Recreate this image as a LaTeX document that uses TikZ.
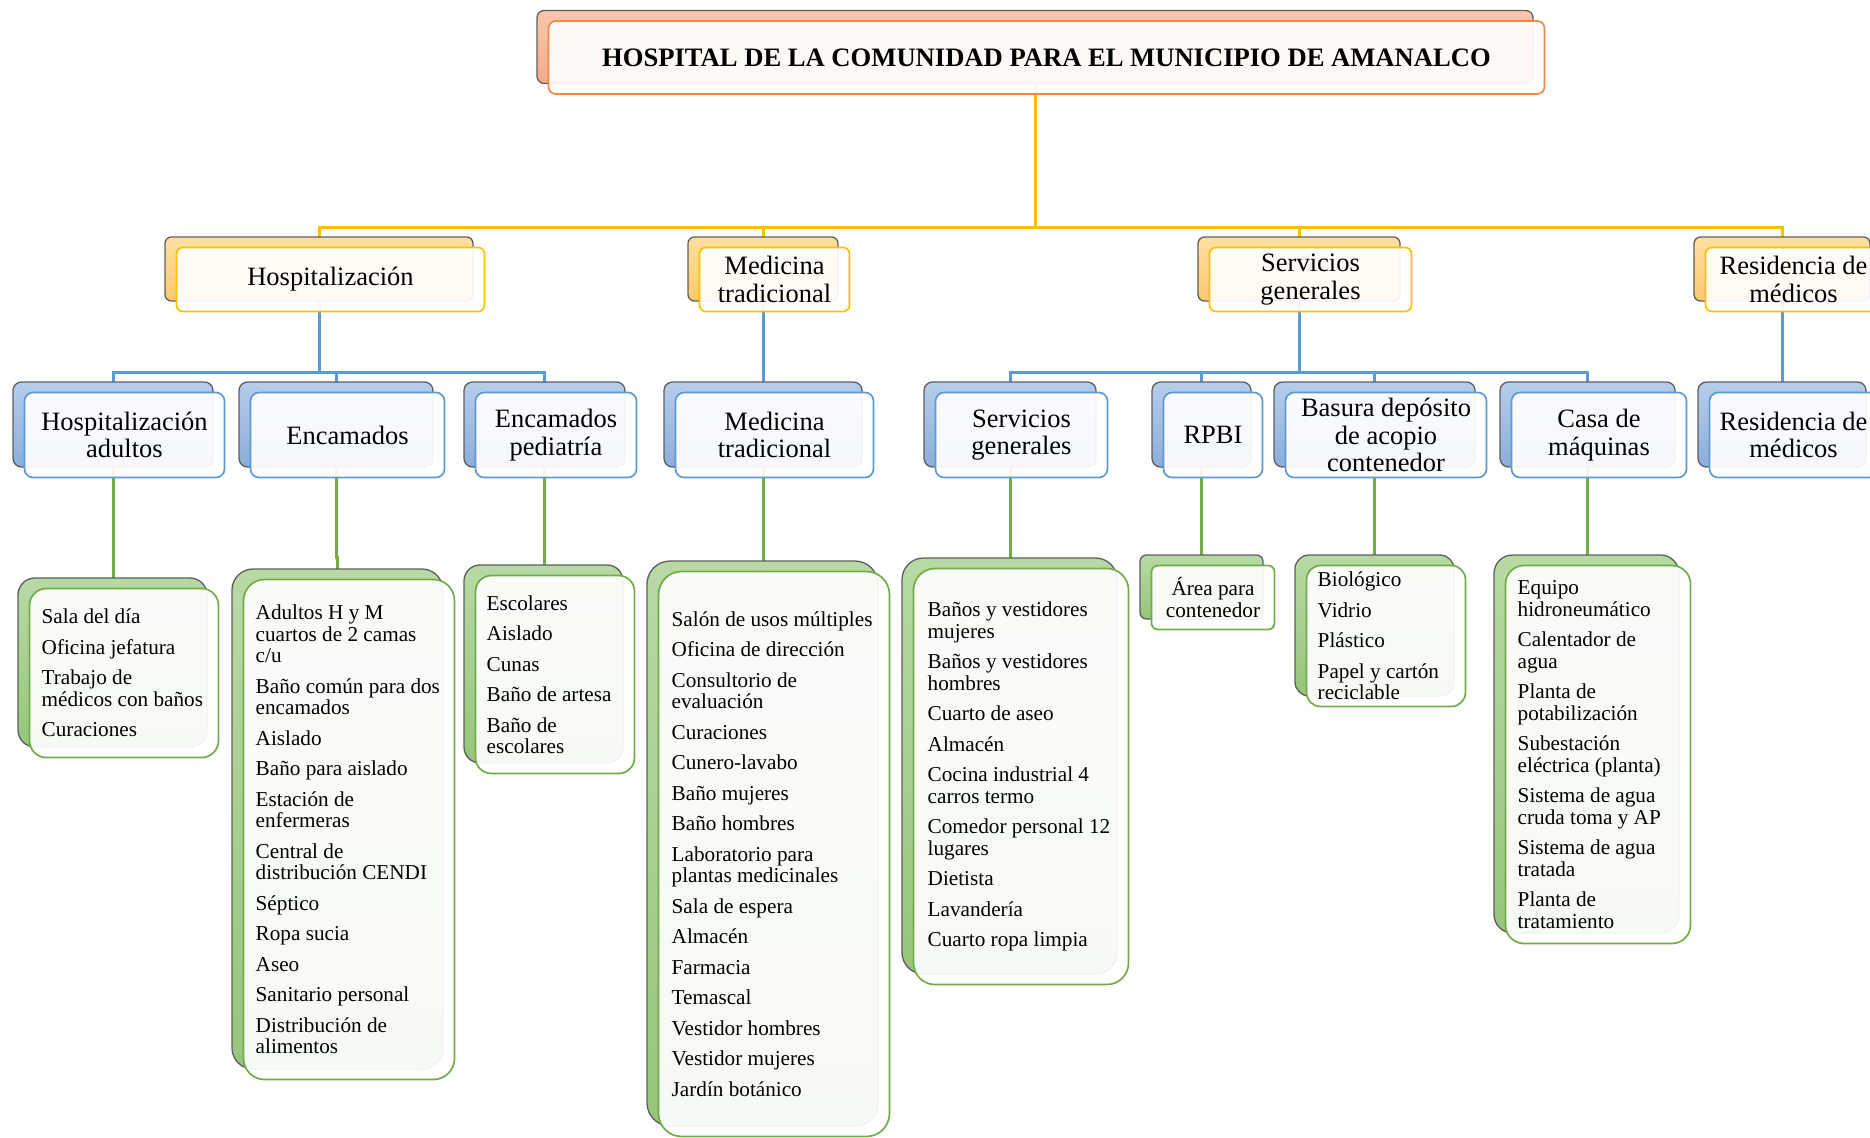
\documentclass[tikz,border=0pt]{standalone}
\usepackage{fontspec}
\setmainfont{Liberation Serif}
\usetikzlibrary{backgrounds,calc}
\definecolor{conY}{HTML}{FFC000}
\definecolor{conB}{HTML}{5B9BD5}
\definecolor{conG}{HTML}{70AD47}
\definecolor{tfr}{HTML}{F0884A}
\definecolor{tbT}{HTML}{F9C6AE}
\definecolor{tbB}{HTML}{F4A986}
\definecolor{obT}{HTML}{FFDF9F}
\definecolor{obB}{HTML}{F9C96E}
\definecolor{bbT}{HTML}{B6CDEB}
\definecolor{bbB}{HTML}{8CADDA}
\definecolor{gbT}{HTML}{B8D9A4}
\definecolor{gbB}{HTML}{97C57B}
\definecolor{bkline}{HTML}{5E5E5E}
\tikzset{
  basebk/.style={draw=bkline, line width=1.3pt, inner sep=0pt, outer sep=0pt},
  basefr/.style={fill=white, fill opacity=0.92, text opacity=1, line width=1.7pt,
                 inner sep=0pt, outer sep=0pt, align=center, text=black},
  titleback/.style={basebk, top color=tbT, bottom color=tbB},
  titlefront/.style={basefr, draw=tfr, font=\fontsize{26.6}{28}\selectfont\bfseries},
  oneback/.style={basebk, top color=obT, bottom color=obB},
  onefront/.style={basefr, draw=conY, font=\fontsize{26.5}{27.5}\selectfont},
  twoback/.style={basebk, top color=bbT, bottom color=bbB},
  twofront/.style={basefr, draw=conB, font=\fontsize{26.5}{27.5}\selectfont},
  thrback/.style={basebk, top color=gbT, bottom color=gbB},
  thrfront/.style={basefr, draw=conG, font=\fontsize{21.2}{22}\selectfont},
  listtext/.style={align=left, inner sep=0pt, anchor=west, text=black,
                   font=\fontsize{21.2}{21.5}\selectfont},
  yl/.style={draw=conY, line width=3pt},
  bl/.style={draw=conB, line width=3pt},
  gl/.style={draw=conG, line width=3pt}
}
\newcommand\twobox[7]{%
  \pgfmathsetmacro\rr{0.1*min(#4,#5)}%
  \node[#6back, rounded corners=\rr pt, minimum width=#4pt, minimum height=#5pt] (#1B) at (#2,#3) {};%
  \node[#6front, rounded corners=\rr pt, minimum width=#4pt, minimum height=#5pt] (#1) at ([shift={(11.5,10.5)}]#1B.center) {#7};%
}
\begin{document}
\begin{tikzpicture}[x=1pt,y=-1pt]
\useasboundingbox (0,0) rectangle (1870,1137);
% title
\twobox{title}{1035}{47}{996}{73}{title}{HOSPITAL DE LA COMUNIDAD PARA EL MUNICIPIO DE AMANALCO}
% level 1
\twobox{hosp}{319}{269}{308}{64}{one}{Hospitalización}
\twobox{med}{763}{269}{150}{64}{one}{Medicina\\tradicional}
\twobox{serv}{1299}{269}{202}{64}{one}{Servicios\\generales}
\twobox{res}{1782}{269}{176}{64}{one}{Residencia de\\médicos}
% level 2
\twobox{ha}{113}{424.5}{200}{85}{two}{Hospitalización\\adultos}
\twobox{enc}{336}{424.5}{194}{85}{two}{Encamados}
\twobox{ped}{544.5}{424.5}{161}{85}{two}{Encamados\\pediatría}
\twobox{medt}{763}{424.5}{198}{85}{two}{Medicina\\tradicional}
\twobox{sg}{1010}{424.5}{172}{85}{two}{Servicios\\generales}
\twobox{rpbi}{1201.5}{424.5}{99}{85}{two}{RPBI}
\twobox{bas}{1374.5}{424.5}{201}{85}{two}{Basura depósito\\de acopio\\contenedor}
\twobox{casa}{1587.5}{424.5}{175}{85}{two}{Casa de\\máquinas}
\twobox{resm}{1782}{424.5}{168}{85}{two}{Residencia de\\médicos}
% level 3
\twobox{haL}{112.5}{662.5}{189}{169}{thr}{}
\node[listtext] (haT) at ([xshift=12pt]haL.west) {Sala del día\\[9pt]Oficina jefatura\\[9pt]Trabajo de\\médicos con baños\\[9pt]Curaciones};
\twobox{encL}{337.5}{819}{211}{500}{thr}{}
\node[listtext] (encT) at ([xshift=12pt]encL.west) {Adultos H y M\\cuartos de 2 camas\\c/u\\[9pt]Baño común para dos\\encamados\\[9pt]Aislado\\[9pt]Baño para aislado\\[9pt]Estación de\\enfermeras\\[9pt]Central de\\distribución CENDI\\[9pt]Séptico\\[9pt]Ropa sucia\\[9pt]Aseo\\[9pt]Sanitario personal\\[9pt]Distribución de\\alimentos};
\twobox{pedL}{543.5}{664}{159}{198}{thr}{}
\node[listtext] (pedT) at ([xshift=11pt]pedL.west) {Escolares\\[9pt]Aislado\\[9pt]Cunas\\[9pt]Baño de artesa\\[9pt]Baño de\\escolares};
\twobox{medL}{762.5}{843.5}{231}{565}{thr}{}
\node[listtext] (medT) at ([xshift=13pt]medL.west) {Salón de usos múltiples\\[9pt]Oficina de dirección\\[9pt]Consultorio de\\evaluación\\[9pt]Curaciones\\[9pt]Cunero-lavabo\\[9pt]Baño mujeres\\[9pt]Baño hombres\\[9pt]Laboratorio para\\plantas medicinales\\[9pt]Sala de espera\\[9pt]Almacén\\[9pt]Farmacia\\[9pt]Temascal\\[9pt]Vestidor hombres\\[9pt]Vestidor mujeres\\[9pt]Jardín botánico};
\twobox{sgL}{1009.5}{766}{215}{416}{thr}{}
\node[listtext] (sgT) at ([xshift=14pt]sgL.west) {Baños y vestidores\\mujeres\\[9pt]Baños y vestidores\\hombres\\[9pt]Cuarto de aseo\\[9pt]Almacén\\[9pt]Cocina industrial 4\\carros termo\\[9pt]Comedor personal 12\\lugares\\[9pt]Dietista\\[9pt]Lavandería\\[9pt]Cuarto ropa limpia};
\twobox{rpL}{1201.5}{587}{123}{64}{thr}{Área para\\contenedor}
\twobox{basL}{1374.5}{625.5}{159}{141}{thr}{}
\node[listtext] (basT) at ([xshift=11pt]basL.west) {Biológico\\[9pt]Vidrio\\[9pt]Plástico\\[9pt]Papel y cartón\\reciclable};
\twobox{casaL}{1586.5}{744}{185}{378}{thr}{}
\node[listtext] (casaT) at ([xshift=12pt]casaL.west) {Equipo\\hidroneumático\\[9pt]Calentador de\\agua\\[9pt]Planta de\\potabilización\\[9pt]Subestación\\eléctrica (planta)\\[9pt]Sistema de agua\\cruda toma y AP\\[9pt]Sistema de agua\\tratada\\[9pt]Planta de\\tratamiento};
% connectors
\coordinate (ya) at (0,227);
\coordinate (yb) at (0,372);
\coordinate (yj) at (0,557);
\begin{scope}[on background layer]
\fill[white] (0,0) rectangle (1870,1137);
\draw[yl] (titleB.center) -- (titleB.center |- ya) -| (hospB.center);
\draw[yl] (titleB.center |- ya) -| (medB.center);
\draw[yl] (titleB.center |- ya) -| (servB.center);
\draw[yl] (titleB.center |- ya) -| (resB.center);
\draw[bl] (hospB.center) -- (hospB.center |- yb) -| (haB.center);
\draw[bl] (hospB.center |- yb) -| (encB.center);
\draw[bl] (hospB.center |- yb) -| (pedB.center);
\draw[bl] (medB.center) -- (medtB.center);
\draw[bl] (servB.center) -- (servB.center |- yb) -| (sgB.center);
\draw[bl] (servB.center |- yb) -| (rpbiB.center);
\draw[bl] (servB.center |- yb) -| (basB.center);
\draw[bl] (servB.center |- yb) -| (casaB.center);
\draw[bl] (resB.center) -- (resmB.center);
\draw[gl] (haB.center) -- (haB.center |- haLB.north);
\draw[gl] (encB.center) -- (encB.center |- yj) -| (encLB.north);
\draw[gl] (pedB.center) -- (pedB.center |- pedLB.north);
\draw[gl] (medtB.center) -- (medtB.center |- medLB.north);
\draw[gl] (sgB.center) -- (sgB.center |- sgLB.north);
\draw[gl] (rpbiB.center) -- (rpbiB.center |- rpLB.north);
\draw[gl] (basB.center) -- (basB.center |- basLB.north);
\draw[gl] (casaB.center) -- (casaB.center |- casaLB.north);
\end{scope}
\end{tikzpicture}
\end{document}
